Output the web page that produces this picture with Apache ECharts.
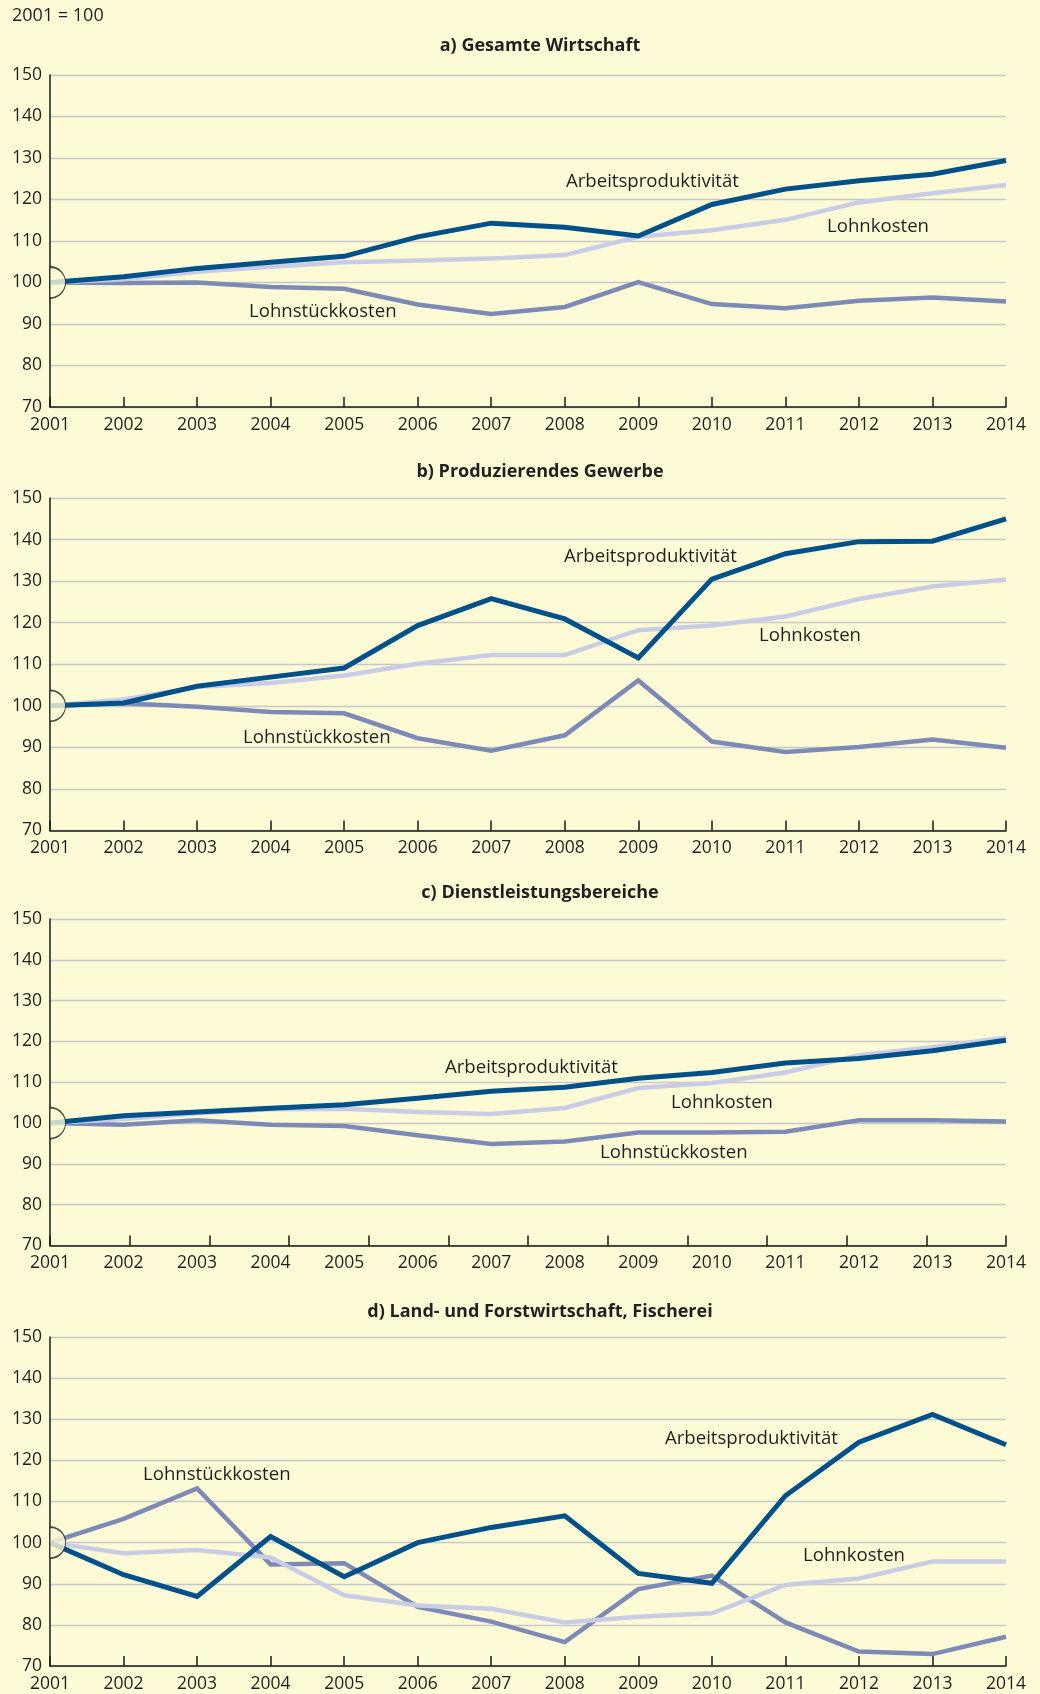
<!DOCTYPE html>
<html>
<head>
<meta charset="utf-8">
<script src="https://cdn.jsdelivr.net/npm/echarts@6/dist/echarts.min.js"></script>
<style>
html,body{margin:0;padding:0;background:#fdfbd6;}
#main{width:1040px;height:1694px;}
</style>
</head>
<body>
<div id="main"></div>
<script>
// ---- data ----
const years = ['2001','2002','2003','2004','2005','2006','2007','2008','2009','2010','2011','2012','2013','2014'];
const yTicks = [70, 150, 10]; // min, max, step

const seriesNames = ['Arbeitsproduktivität', 'Lohnkosten', 'Lohnstückkosten'];
const panelTitles = ['a) Gesamte Wirtschaft', 'b) Produzierendes Gewerbe', 'c) Dienstleistungsbereiche', 'd) Land- und Forstwirtschaft, Fischerei'];
const baseNote = '2001 = 100';

// a) Gesamte Wirtschaft
const aProd  = [100, 101.4, 103.4, 104.9, 106.3, 111.0, 114.3, 113.3, 111.2, 118.8, 122.5, 124.5, 126.1, 129.4];
const aLohn  = [100, 100.8, 102.6, 103.8, 104.9, 105.3, 105.8, 106.6, 111.0, 112.6, 115.1, 119.3, 121.5, 123.5];
const aStk   = [100, 99.9, 100.0, 98.9, 98.5, 94.7, 92.4, 94.1, 100.1, 94.8, 93.8, 95.6, 96.4, 95.4];

// b) Produzierendes Gewerbe
const bProd  = [100, 100.7, 104.7, 106.9, 109.1, 119.3, 125.8, 120.9, 111.5, 130.5, 136.6, 139.5, 139.6, 145.0];
const bLohn  = [100, 101.5, 104.5, 105.5, 107.3, 110.1, 112.2, 112.2, 118.2, 119.3, 121.5, 125.7, 128.7, 130.4];
const bStk   = [100, 100.6, 99.8, 98.5, 98.2, 92.2, 89.2, 92.9, 106.1, 91.4, 88.9, 90.1, 91.9, 89.9];

// c) Dienstleistungsbereiche
const cProd  = [100, 101.8, 102.7, 103.6, 104.5, 106.1, 107.8, 108.8, 111.0, 112.4, 114.7, 115.8, 117.7, 120.3];
const cLohn  = [100, 101.0, 102.4, 103.4, 103.5, 102.7, 102.2, 103.7, 108.6, 109.8, 112.4, 116.6, 118.6, 120.9];
const cStk   = [100, 99.6, 100.7, 99.6, 99.3, 97.0, 94.9, 95.5, 97.7, 97.7, 97.9, 100.7, 100.7, 100.4];

// d) Land- und Forstwirtschaft, Fischerei
const dProd  = [100, 92.2, 86.9, 101.5, 91.7, 100.0, 103.7, 106.5, 92.5, 90.1, 111.4, 124.4, 131.2, 123.8];
const dLohn  = [100, 97.4, 98.2, 96.4, 87.2, 84.7, 83.9, 80.6, 82.0, 82.8, 89.7, 91.3, 95.4, 95.4];
const dStk   = [100, 105.8, 113.2, 94.7, 95.0, 84.4, 80.8, 75.8, 88.7, 92.0, 80.6, 73.5, 72.9, 77.1];

const panels = [
  [aProd, aLohn, aStk],
  [bProd, bLohn, bStk],
  [cProd, cLohn, cStk],
  [dProd, dLohn, dStk]
];

// ---- styling / layout ----
const BG = '#fdfbd6';
const TXT = '#231f20';
const FONT = '"Open Sans", "Liberation Sans", sans-serif';
const colors = ['#00508a', '#c9cce4', '#7d8ab6'];
const widths = [5, 4.5, 4.5];
const zs = [4, 3, 2];
const gridTops = [75, 498, 919, 1337];
const gridHeights = [332, 332.5, 326.5, 329];
const titleY = [46, 472, 893, 1312];

// label annotations: [panel, seriesIndex, x, y]
const annos = [
  [0, 0, 566, 182], [0, 1, 827, 227], [0, 2, 249, 312],
  [1, 0, 564, 557], [1, 1, 759, 636], [1, 2, 243, 738],
  [2, 0, 445, 1068], [2, 1, 671, 1103], [2, 2, 600, 1153],
  [3, 0, 665, 1439], [3, 1, 803, 1556], [3, 2, 143, 1475]
];

const grid = [], xAxis = [], yAxis = [], series = [];
panels.forEach((p, i) => {
  grid.push({left: 50, right: 34, top: gridTops[i], height: gridHeights[i]});
  const special = (i === 2);
  xAxis.push({
    type: 'category', gridIndex: i, data: years, boundaryGap: false, position: 'bottom',
    axisLine: {show: true, lineStyle: {color: '#1a1a1a', width: 1.5}},
    axisTick: {show: !special, inside: true, length: 10, lineStyle: {color: '#1a1a1a', width: 1.5}},
    axisLabel: {interval: 0, margin: 9, fontSize: 17.5, color: TXT, fontFamily: FONT},
    splitLine: {show: false}
  });
  yAxis.push({
    type: 'value', gridIndex: i, min: yTicks[0], max: yTicks[1], interval: yTicks[2],
    axisLine: {show: true, lineStyle: {color: '#1a1a1a', width: 1.5}},
    axisTick: {show: false},
    axisLabel: {margin: 8, fontSize: 17.5, color: TXT, fontFamily: FONT},
    splitLine: {show: true, lineStyle: {color: '#c6c7cc', width: 1.3}}
  });
  p.forEach((arr, k) => {
    series.push({
      type: 'line', name: seriesNames[k], xAxisIndex: i, yAxisIndex: i, data: arr,
      showSymbol: false, symbol: 'none', z: zs[k],
      lineStyle: {color: colors[k], width: widths[k], join: 'miter'},
      silent: true
    });
  });
  series.push({
    type: 'scatter', xAxisIndex: i, yAxisIndex: i, data: [[0, 100]], clip: false, z: 10,
    symbol: 'path://M0,0A10,10,0,0,1,0,20Z', symbolSize: [15.5, 31], symbolOffset: [7.75, 0],
    itemStyle: {color: BG, borderColor: '#1a1a1a', borderWidth: 1.3}, silent: true
  });
});
// panel c: tick marks in 12 equal steps (as in the original)
xAxis.push({
  type: 'value', gridIndex: 2, min: 0, max: 12, interval: 1, position: 'bottom',
  axisLine: {show: false},
  axisTick: {show: true, inside: true, length: 10, lineStyle: {color: '#1a1a1a', width: 1.5}},
  axisLabel: {show: false}, splitLine: {show: false}
});

const graphic = [];
graphic.push({type: 'text', x: 12, y: 16, style: {text: baseNote, font: '18px ' + FONT, fill: TXT, verticalAlign: 'middle'}});
panelTitles.forEach((t, i) => {
  graphic.push({type: 'text', x: 540, y: titleY[i], style: {text: t, font: 'bold 18px ' + FONT, fill: TXT, align: 'center', verticalAlign: 'middle'}});
});
annos.forEach(a => {
  graphic.push({type: 'text', x: a[2], y: a[3], z: 20, style: {text: seriesNames[a[1]], font: '18.6px ' + FONT, fill: TXT, verticalAlign: 'middle'}});
});

const chart = echarts.init(document.getElementById('main'), null, {renderer: 'canvas'});
chart.setOption({
  backgroundColor: BG,
  animation: false,
  grid, xAxis, yAxis, series, graphic
});
</script>
</body>
</html>
